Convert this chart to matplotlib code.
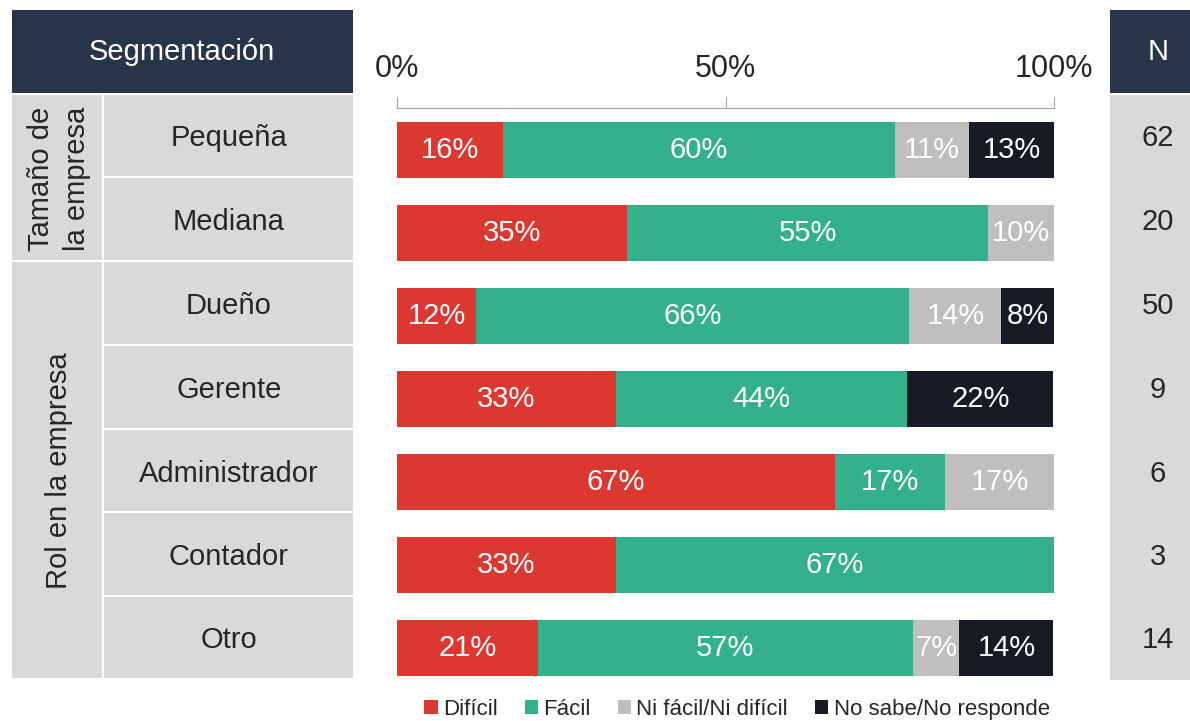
import matplotlib.pyplot as plt
from matplotlib.patches import Rectangle

plt.rcParams['font.family'] = ['Liberation Sans', 'DejaVu Sans']

# data
rows = ['Pequeña', 'Mediana', 'Dueño', 'Gerente', 'Administrador', 'Contador', 'Otro']
groups = ['Tamaño de\nla empresa', 'Rol en la empresa']
group_sizes = [2, 5]
n_values = [62, 20, 50, 9, 6, 3, 14]
series = ['Difícil', 'Fácil', 'Ni fácil/Ni difícil', 'No sabe/No responde']
dificil = [16.1, 35.0, 12.0, 33.3, 66.7, 33.3, 21.4]
facil = [59.7, 55.0, 66.0, 44.4, 16.7, 66.7, 57.1]
ni = [11.3, 10.0, 14.0, 0.0, 16.7, 0.0, 7.1]
nsnr = [12.9, 0.0, 8.0, 22.2, 0.0, 0.0, 14.3]
colors = ['#dc3832', '#34b18a', '#bfbfbf', '#161b26']

W, H = 1190, 721
fig = plt.figure(figsize=(W / 100, H / 100), dpi=100)

def box(x0, y0, x1, y1, color):
    fig.add_artist(Rectangle((x0 / W, 1 - y1 / H), (x1 - x0) / W, (y1 - y0) / H,
                             transform=fig.transFigure, facecolor=color, edgecolor='none'))

def txt(x, y, s, **kw):
    fig.text(x / W, 1 - y / H, s, ha='center', va='center', **kw)

navy = '#283548'
cell = '#d9d9d9'
dark_txt = '#262626'
fs = 21

# header boxes
box(12, 10, 353, 93, navy)
txt(182, 52, 'Segmentación', color='white', fontsize=fs)
box(1110, 10, 1190, 93, navy)
txt(1158, 52, 'N', color='white', fontsize=fs)

# row cells
edges = [95, 178, 262, 346, 430, 513, 597, 680]
for i, r in enumerate(rows):
    box(104, edges[i], 353, edges[i + 1] - 2, cell)
    txt(229, (edges[i] + edges[i + 1]) / 2 + 2, r, color=dark_txt, fontsize=fs)
box(1110, 95, 1190, 680, cell)
for i, n in enumerate(n_values):
    txt(1158, (edges[i] + edges[i + 1]) / 2 + 2, str(n), color=dark_txt, fontsize=fs)

start = 0
for g, size in zip(groups, group_sizes):
    y0, y1 = edges[start], edges[start + size]
    box(12, y0, 102, y1 - 2, cell)
    txt(59, (y0 + y1) / 2, g, color=dark_txt, fontsize=fs, rotation=90, linespacing=1.4)
    start += size

# stacked bars
ax = fig.add_axes([397 / W, 1 - 690 / H, 657 / W, 582 / H])
ax.set_xlim(0, 100)
ax.set_ylim(6.506, -0.506)
left = [0] * len(rows)
for name, vals, c in zip(series, [dificil, facil, ni, nsnr], colors):
    bars = ax.barh(range(len(rows)), vals, left=left, height=0.675, color=c, label=name)
    for b, v in zip(bars, vals):
        if v > 0:
            ax.text(b.get_x() + b.get_width() / 2, b.get_y() + b.get_height() / 2,
                    f'{round(v)}%', ha='center', va='center', color='white', fontsize=fs)
    left = [l + v for l, v in zip(left, vals)]

for s in ['left', 'right', 'bottom']:
    ax.spines[s].set_visible(False)
ax.spines['top'].set_color('#a6a6a6')
ax.xaxis.tick_top()
ax.set_xticks([0, 50, 100])
ax.set_xticklabels(['0%', '50%', '100%'])
ax.tick_params(axis='x', colors='#a6a6a6', length=8, pad=9, labelsize=22, labelcolor=dark_txt)
ax.set_yticks([])

fig.legend(loc='lower center', bbox_to_anchor=(737 / W, -0.026), ncol=4, frameon=False,
           fontsize=16, handlelength=0.6, handleheight=0.6, handletextpad=0.25,
           columnspacing=1.2, labelcolor=dark_txt)

fig.savefig('out.png', dpi=100)
